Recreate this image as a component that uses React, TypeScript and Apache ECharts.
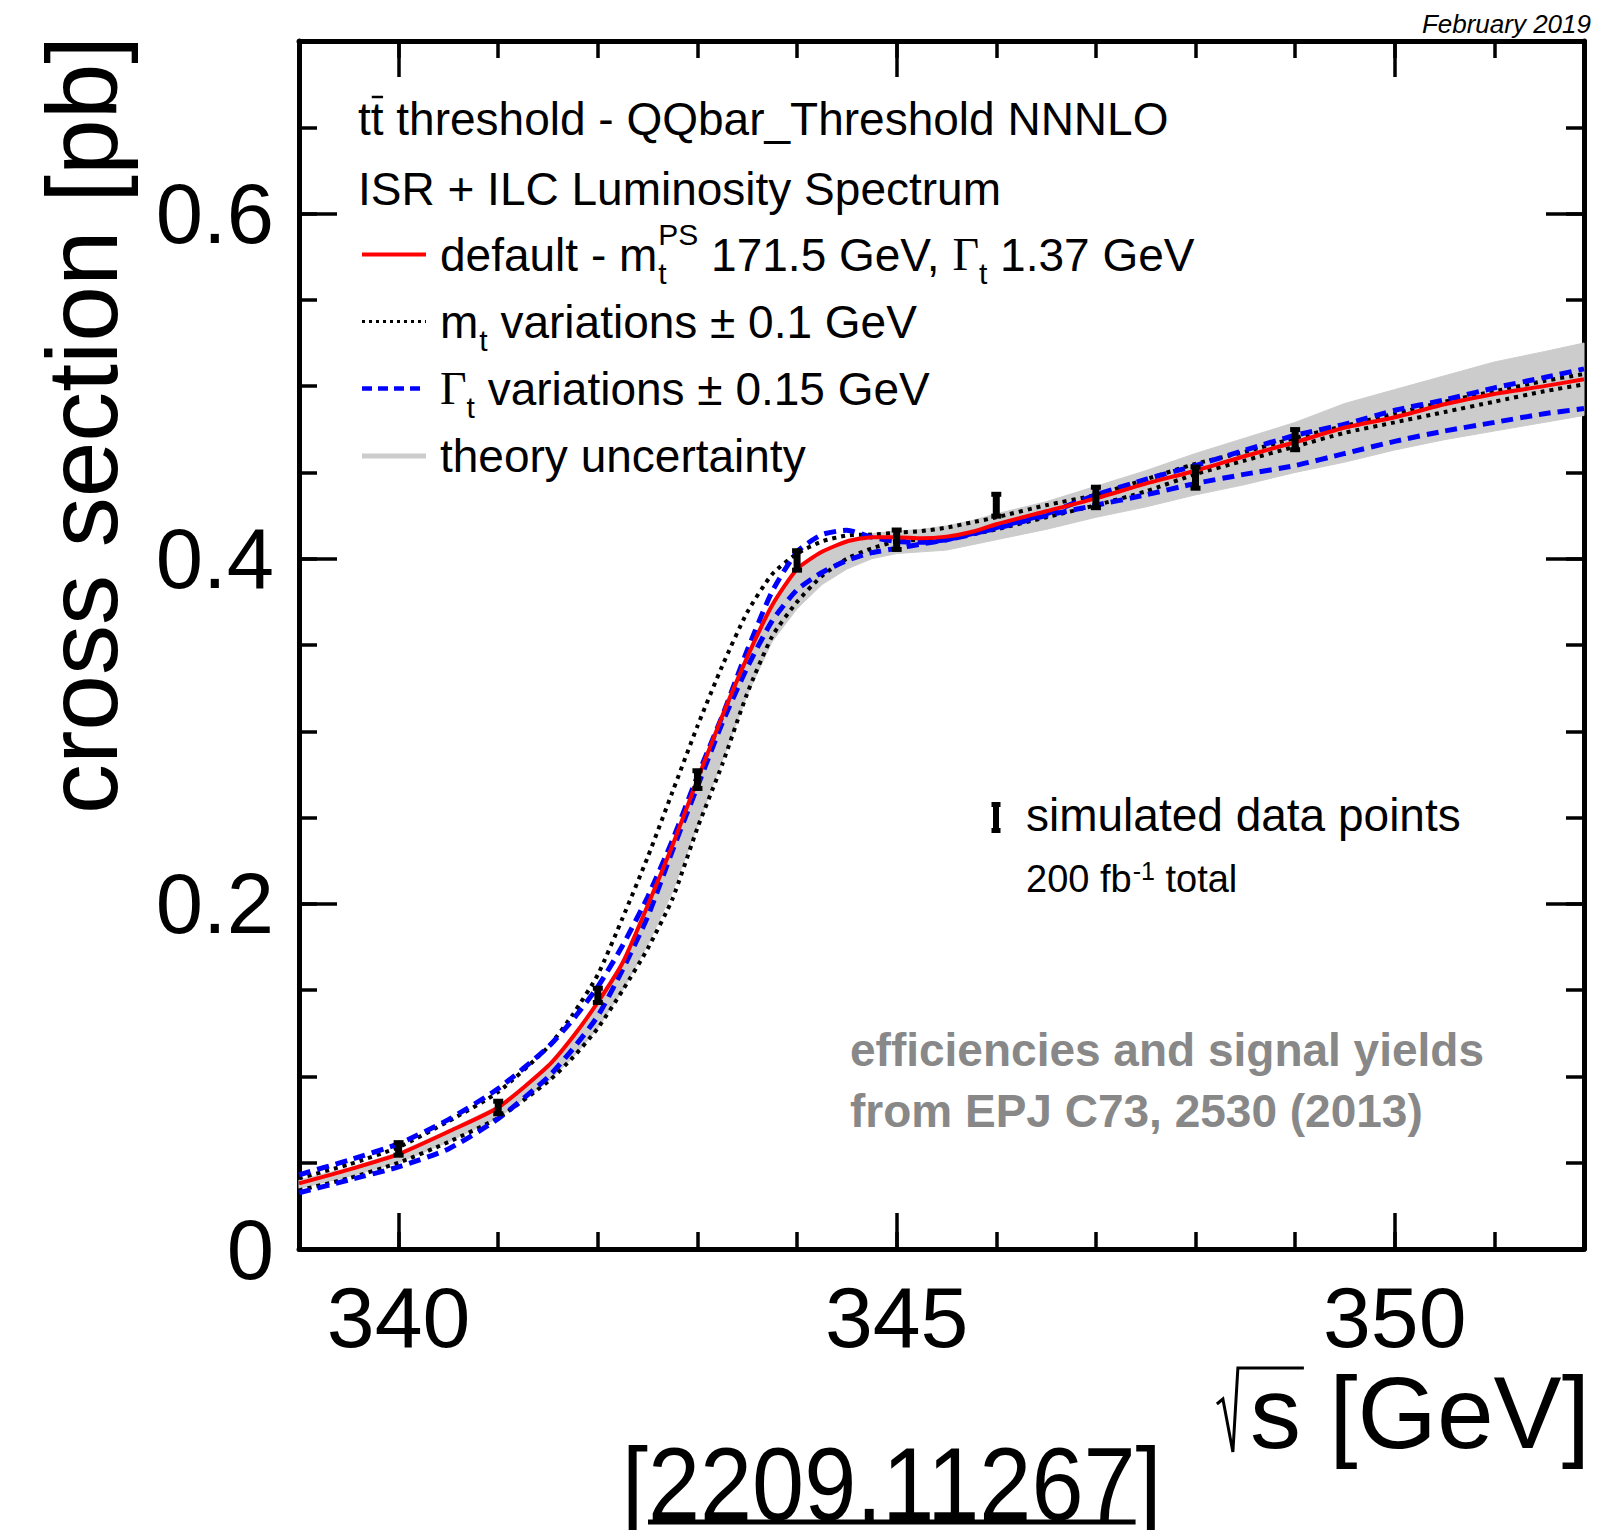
import React, { useEffect, useRef } from "react";
import * as echarts from "echarts";

// ---------------- data ----------------
const xs = [339, 339.5, 340, 340.5, 341, 341.5, 341.75, 342, 342.25, 342.5, 342.75, 343, 343.25, 343.5, 343.75, 344, 344.25, 344.5, 344.75, 345, 345.25, 345.5, 345.75, 346, 346.5, 347, 347.5, 348, 348.5, 349, 349.5, 350, 350.5, 351, 351.5, 351.9];

const defaultCurve = [0.038, 0.046, 0.055, 0.068, 0.082, 0.106, 0.123, 0.143, 0.166, 0.199, 0.234, 0.272, 0.309, 0.343, 0.373, 0.394, 0.404, 0.410, 0.4125, 0.4125, 0.4118, 0.4128, 0.4155, 0.420, 0.4275, 0.435, 0.4435, 0.451, 0.4595, 0.4675, 0.476, 0.482, 0.4895, 0.4955, 0.500, 0.504];

const mtUp = [0.041, 0.049, 0.059, 0.074, 0.091, 0.117, 0.136, 0.159, 0.192, 0.227, 0.265, 0.303, 0.338, 0.369, 0.391, 0.403, 0.410, 0.4135, 0.414, 0.415, 0.416, 0.418, 0.421, 0.424, 0.431, 0.437, 0.446, 0.455, 0.462, 0.470, 0.477, 0.484, 0.491, 0.497, 0.503, 0.507];

const mtDown = [0.034, 0.041, 0.050, 0.062, 0.076, 0.097, 0.111, 0.128, 0.150, 0.174, 0.203, 0.244, 0.281, 0.322, 0.355, 0.375, 0.390, 0.400, 0.406, 0.410, 0.411, 0.412, 0.414, 0.417, 0.424, 0.431, 0.439, 0.449, 0.457, 0.465, 0.473, 0.479, 0.485, 0.491, 0.497, 0.501];

const widthUp = [0.043, 0.0515, 0.061, 0.075, 0.093, 0.117, 0.133, 0.152, 0.176, 0.204, 0.237, 0.274, 0.309, 0.347, 0.381, 0.404, 0.414, 0.4165, 0.4125, 0.410, 0.4095, 0.411, 0.414, 0.418, 0.426, 0.437, 0.446, 0.454, 0.463, 0.4715, 0.478, 0.486, 0.492, 0.499, 0.505, 0.510];

const widthDown = [0.0326, 0.040, 0.0476, 0.058, 0.0755, 0.0996, 0.116, 0.135, 0.162, 0.1925, 0.231, 0.268, 0.305, 0.337, 0.364, 0.382, 0.392, 0.399, 0.4035, 0.406, 0.4085, 0.411, 0.4145, 0.4175, 0.425, 0.431, 0.437, 0.4436, 0.449, 0.454, 0.461, 0.468, 0.474, 0.479, 0.484, 0.487];

const theoryLow = [0.035, 0.042, 0.050, 0.062, 0.076, 0.097, 0.111, 0.128, 0.150, 0.176, 0.207, 0.245, 0.283, 0.321, 0.352, 0.371, 0.385, 0.394, 0.400, 0.403, 0.404, 0.405, 0.408, 0.411, 0.417, 0.424, 0.430, 0.437, 0.443, 0.450, 0.456, 0.463, 0.469, 0.474, 0.479, 0.483];

const theoryHigh = [0.040, 0.047, 0.056, 0.069, 0.083, 0.106, 0.123, 0.143, 0.167, 0.200, 0.235, 0.272, 0.309, 0.343, 0.373, 0.394, 0.404, 0.411, 0.4145, 0.416, 0.417, 0.419, 0.422, 0.426, 0.433, 0.442, 0.451, 0.461, 0.470, 0.479, 0.490, 0.498, 0.506, 0.514, 0.520, 0.525];

const dataX = [340, 341, 342, 343, 344, 345, 346, 347, 348, 349];
const dataY = [0.058, 0.082, 0.147, 0.272, 0.399, 0.411, 0.431, 0.4355, 0.447, 0.469];
const dataErr = [0.0045, 0.0045, 0.005, 0.006, 0.0065, 0.0065, 0.0072, 0.0068, 0.007, 0.0067];

const xMajorTicks = [340, 345, 350];
const yMajorTicks = [0, 0.2, 0.4, 0.6];
const X_MIN = 339;
const X_MAX = 351.9;
const Y_MIN = 0;
const Y_MAX = 0.7;

// ---------------- helpers ----------------
const F = '"Liberation Sans", Arial, Helvetica, sans-serif';
const SERIF = '"Liberation Serif", "Times New Roman", serif';

let measureCtx: CanvasRenderingContext2D | null = null;
function tw(text: string, size: number, family = F, weight = "normal", style = "normal") {
  if (!measureCtx) measureCtx = document.createElement("canvas").getContext("2d");
  measureCtx!.font = `${style} ${weight} ${size}px ${family}`;
  return measureCtx!.measureText(text).width;
}

function txt(x: number, y: number, text: string, size: number, o: any = {}) {
  return {
    type: "text",
    x,
    y,
    z: 100,
    silent: true,
    ...(o.extra || {}),
    style: {
      text,
      fontSize: size,
      fontFamily: o.family || F,
      fontWeight: o.weight || "normal",
      fontStyle: o.style || "normal",
      fill: o.fill || "#000",
      textAlign: o.align || "left",
      textVerticalAlign: o.valign || "middle",
    },
  };
}

function buildGraphics() {
  const g: any[] = [];
  const L = 46;
  const S = 30;
  const xText = 440;
  const rows = [118.5, 188.5, 254.5, 321.5, 388.5, 456];

  // Row 1
  g.push(txt(358, rows[0], "tt threshold - QQbar_Threshold NNNLO", L));
  const tW = tw("t", L);
  g.push({
    type: "line",
    z: 100,
    silent: true,
    shape: { x1: 358 + tW + 1, y1: 97, x2: 358 + 2 * tW - 0.5, y2: 97 },
    style: { stroke: "#000", lineWidth: 2.5 },
  });
  // Row 2
  g.push(txt(358, rows[1], "ISR + ILC Luminosity Spectrum", L));

  // Row 3
  {
    let x = xText;
    const a = "default - m";
    g.push(txt(x, rows[2], a, L));
    x += tw(a, L);
    g.push(txt(x + 1, rows[2] + 19, "t", S));
    g.push(txt(x + 1, rows[2] - 20, "PS", S));
    x += Math.max(tw("t", S), tw("PS", S)) + 1;
    const b = " 171.5 GeV, ";
    g.push(txt(x, rows[2], b, L));
    x += tw(b, L);
    g.push(txt(x, rows[2], "Γ", L, { family: SERIF }));
    x += tw("Γ", L, SERIF);
    g.push(txt(x, rows[2] + 19, "t", S));
    x += tw("t", S);
    g.push(txt(x, rows[2], " 1.37 GeV", L));
  }
  // Row 4
  {
    let x = xText;
    g.push(txt(x, rows[3], "m", L));
    x += tw("m", L);
    g.push(txt(x + 1, rows[3] + 19, "t", S));
    x += tw("t", S) + 1;
    g.push(txt(x, rows[3], " variations ± 0.1 GeV", L));
  }
  // Row 5
  {
    let x = xText;
    g.push(txt(x, rows[4], "Γ", L, { family: SERIF }));
    x += tw("Γ", L, SERIF);
    g.push(txt(x, rows[4] + 19, "t", S));
    x += tw("t", S);
    g.push(txt(x, rows[4], " variations ± 0.15 GeV", L));
  }
  // Row 6
  g.push(txt(xText, rows[5], "theory uncertainty", L));

  // legend samples
  const lx1 = 362;
  const lx2 = 426;
  g.push({ type: "line", z: 100, silent: true, shape: { x1: lx1, y1: rows[2], x2: lx2, y2: rows[2] }, style: { stroke: "#ff0000", lineWidth: 4 } });
  g.push({ type: "line", z: 100, silent: true, shape: { x1: lx1, y1: rows[3], x2: lx2, y2: rows[3] }, style: { stroke: "#000", lineWidth: 3, lineDash: [3, 4] } });
  g.push({ type: "line", z: 100, silent: true, shape: { x1: lx1, y1: rows[4], x2: lx2, y2: rows[4] }, style: { stroke: "#0000ff", lineWidth: 4.5, lineDash: [10, 6] } });
  g.push({ type: "line", z: 100, silent: true, shape: { x1: lx1, y1: rows[5], x2: lx2, y2: rows[5] }, style: { stroke: "#cccccc", lineWidth: 5 } });

  // simulated data legend
  g.push({ type: "rect", z: 100, silent: true, shape: { x: 993, y: 802, width: 6, height: 31 }, style: { fill: "#000" } });
  g.push({ type: "rect", z: 100, silent: true, shape: { x: 991.5, y: 802, width: 9, height: 5 }, style: { fill: "#000" } });
  g.push({ type: "rect", z: 100, silent: true, shape: { x: 991.5, y: 828, width: 9, height: 5 }, style: { fill: "#000" } });
  g.push(txt(1026, 814.5, "simulated data points", L));
  {
    let x = 1026;
    const a = "200 fb";
    g.push(txt(x, 879, a, 38));
    x += tw(a, 38) + 1;
    g.push(txt(x, 871, "-1", 25));
    x += tw("-1", 25);
    g.push(txt(x, 879, " total", 38));
  }

  // efficiencies note
  g.push(txt(850, 1050, "efficiencies and signal yields", 46, { weight: "bold", fill: "#888888" }));
  g.push(txt(850, 1111, "from EPJ C73, 2530 (2013)", 46, { weight: "bold", fill: "#888888" }));

  // date
  g.push(txt(1591, 24, "February 2019", 26, { style: "italic", align: "right" }));

  // x title
  {
    const size = 102;
    const t = "s [GeV]";
    const right = 1590;
    const sStart = right - tw(t, size);
    const sEnd = sStart + tw("s", size);
    g.push(txt(right, 1412.5, t, size, { align: "right" }));
    g.push({
      type: "polyline",
      z: 100,
      silent: true,
      shape: {
        points: [
          [sStart - 33, 1404],
          [sStart - 27, 1399],
          [sStart - 17, 1452],
          [sStart - 12, 1368],
          [sEnd + 3, 1368],
        ],
      },
      style: { stroke: "#000", lineWidth: 3, fill: null },
    });
  }

  // y title
  g.push(txt(82, 814, "cross section [pb]", 100, { extra: { rotation: Math.PI / 2 } }));

  // arXiv reference
  {
    const size = 104;
    const sx = 0.9;
    const x0 = 622;
    g.push(txt(x0, 1484, "[2209.11267]", size, { extra: { scaleX: sx } }));
    const u0 = x0 + tw("[", size) * sx;
    const u1 = u0 + tw("2209.11267", size) * sx;
    g.push({ type: "line", z: 100, silent: true, shape: { x1: u0, y1: 1522, x2: u1, y2: 1522 }, style: { stroke: "#000", lineWidth: 5 } });
  }

  return g;
}

const pairs = (ys: number[]) => xs.map((x, i) => [x, ys[i]]);

export default function App() {
  const ref = useRef<HTMLDivElement>(null);

  useEffect(() => {
    if (!ref.current) return;
    const chart = echarts.init(ref.current, undefined, { renderer: "svg" });

    const lineStyleAxis = { color: "#000", width: 5 };
    const tickStyle = { color: "#000", width: 3.5 };

    const xLabelFmt = (v: number) => {
      const r = Math.round(v);
      return Math.abs(v - r) < 1e-6 && xMajorTicks.includes(r) ? String(r) : "";
    };
    const yLabelFmt = (v: number) => {
      for (const m of yMajorTicks) {
        if (Math.abs(v - m) < 1e-6) return m === 0 ? "0" : m.toFixed(1);
      }
      return "";
    };

    const xBase = { type: "value", min: X_MIN, max: X_MAX, splitLine: { show: false }, gridIndex: 0 };
    const yBase = { type: "value", min: Y_MIN, max: Y_MAX, splitLine: { show: false }, gridIndex: 0 };

    const bandData = xs.map((x, i) => [x, theoryLow[i], theoryHigh[i]]);

    const option: any = {
      animation: false,
      backgroundColor: "#ffffff",
      grid: { left: 299, right: 31, top: 41, bottom: 281, containLabel: false },
      xAxis: [
        {
          ...xBase,
          position: "bottom",
          interval: 1,
          axisLine: { show: true, onZero: false, lineStyle: lineStyleAxis },
          axisTick: { show: true, inside: true, length: 17, lineStyle: tickStyle },
          axisLabel: { show: true, margin: 25, fontSize: 86, fontFamily: F, color: "#000", formatter: xLabelFmt },
        },
        {
          ...xBase,
          position: "bottom",
          axisLine: { show: false, onZero: false },
          axisTick: { show: true, inside: true, length: 36, customValues: xMajorTicks, lineStyle: tickStyle },
          axisLabel: { show: false },
        },
        {
          ...xBase,
          position: "top",
          interval: 1,
          axisLine: { show: true, onZero: false, lineStyle: lineStyleAxis },
          axisTick: { show: true, inside: true, length: 17, lineStyle: tickStyle },
          axisLabel: { show: false },
        },
        {
          ...xBase,
          position: "top",
          axisLine: { show: false, onZero: false },
          axisTick: { show: true, inside: true, length: 36, customValues: xMajorTicks, lineStyle: tickStyle },
          axisLabel: { show: false },
        },
      ],
      yAxis: [
        {
          ...yBase,
          position: "left",
          interval: 0.05,
          axisLine: { show: true, onZero: false, lineStyle: lineStyleAxis },
          axisTick: { show: true, inside: true, length: 18, lineStyle: tickStyle },
          axisLabel: { show: true, margin: 25, fontSize: 85, fontFamily: F, color: "#000", formatter: yLabelFmt },
        },
        {
          ...yBase,
          position: "left",
          axisLine: { show: false, onZero: false },
          axisTick: { show: true, inside: true, length: 38, customValues: yMajorTicks, lineStyle: tickStyle },
          axisLabel: { show: false },
        },
        {
          ...yBase,
          position: "right",
          interval: 0.05,
          axisLine: { show: true, onZero: false, lineStyle: lineStyleAxis },
          axisTick: { show: true, inside: true, length: 18, lineStyle: tickStyle },
          axisLabel: { show: false },
        },
        {
          ...yBase,
          position: "right",
          axisLine: { show: false, onZero: false },
          axisTick: { show: true, inside: true, length: 38, customValues: yMajorTicks, lineStyle: tickStyle },
          axisLabel: { show: false },
        },
      ],
      series: [
        {
          name: "theory uncertainty",
          type: "custom",
          z: 1,
          silent: true,
          data: bandData,
          encode: { x: 0, y: [1, 2] },
          renderItem: (params: any, api: any) => {
            if (params.dataIndex !== 0) return null;
            const upper = bandData.map((d) => api.coord([d[0], d[2]]));
            const lower = bandData.map((d) => api.coord([d[0], d[1]])).reverse();
            return {
              type: "polygon",
              shape: { points: upper.concat(lower) },
              style: { fill: "#cccccc", stroke: "#cccccc", lineWidth: 1 },
            };
          },
        },
        {
          name: "mt up",
          type: "line",
          data: pairs(mtUp),
          symbol: "none",
          smooth: 0.2,
          lineStyle: { color: "#000", width: 4, type: [4, 5] },
          z: 2,
        },
        {
          name: "mt down",
          type: "line",
          data: pairs(mtDown),
          symbol: "none",
          smooth: 0.2,
          lineStyle: { color: "#000", width: 4, type: [4, 5] },
          z: 2,
        },
        {
          name: "width up",
          type: "line",
          data: pairs(widthUp),
          symbol: "none",
          smooth: 0.2,
          lineStyle: { color: "#0000ff", width: 5, type: [12, 7] },
          z: 3,
        },
        {
          name: "width down",
          type: "line",
          data: pairs(widthDown),
          symbol: "none",
          smooth: 0.2,
          lineStyle: { color: "#0000ff", width: 5, type: [12, 7] },
          z: 3,
        },
        {
          name: "default",
          type: "line",
          data: pairs(defaultCurve),
          symbol: "none",
          smooth: 0.2,
          lineStyle: { color: "#ff0000", width: 4 },
          z: 4,
        },
        {
          name: "simulated data points",
          type: "custom",
          z: 5,
          data: dataX.map((x, i) => [x, dataY[i], dataErr[i]]),
          encode: { x: 0, y: 1 },
          renderItem: (params: any, api: any) => {
            const x = api.value(0);
            const y = api.value(1);
            const e = api.value(2);
            const top = api.coord([x, y + e]);
            const bot = api.coord([x, y - e]);
            const cx = top[0];
            return {
              type: "group",
              children: [
                { type: "rect", shape: { x: cx - 3.5, y: top[1], width: 7, height: bot[1] - top[1] }, style: { fill: "#000" } },
                { type: "rect", shape: { x: cx - 5, y: top[1] - 1, width: 10, height: 5 }, style: { fill: "#000" } },
                { type: "rect", shape: { x: cx - 5, y: bot[1] - 4, width: 10, height: 5 }, style: { fill: "#000" } },
              ],
            };
          },
        },
      ],
      graphic: buildGraphics(),
    };

    chart.setOption(option);
    return () => chart.dispose();
  }, []);

  return (
    <div
      ref={ref}
      style={{ position: "absolute", left: 0, top: 0, width: 1615, height: 1530, background: "#fff" }}
    />
  );
}
